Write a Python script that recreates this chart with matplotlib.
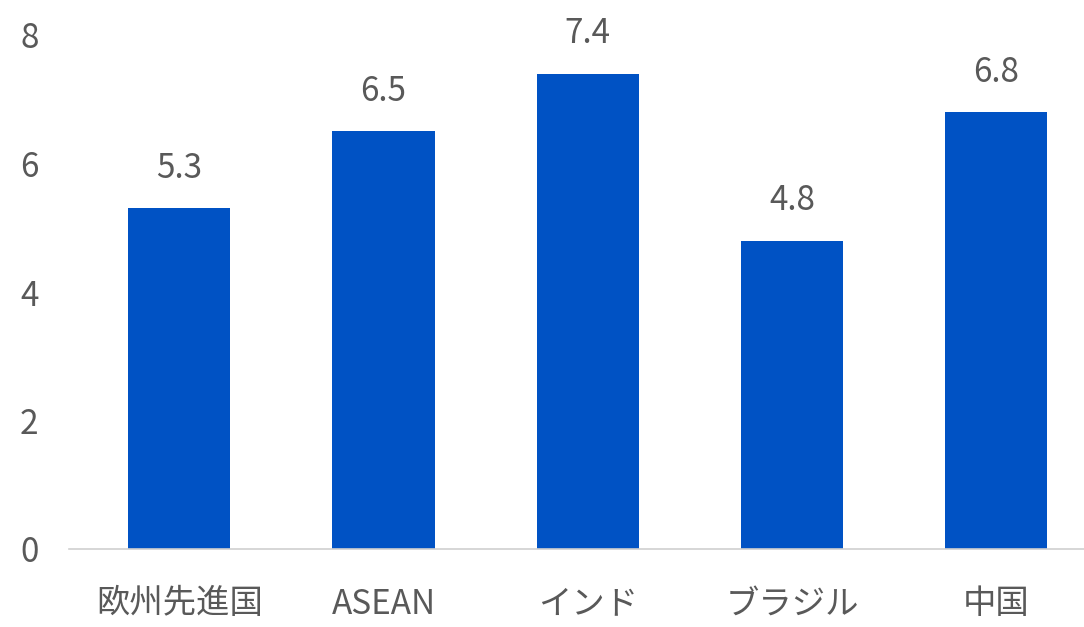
import matplotlib
matplotlib.use("Agg")
import matplotlib.pyplot as plt

categories = ["欧州先進国", "ASEAN", "インド", "ブラジル", "中国"]
values = [5.3, 6.5, 7.4, 4.8, 6.8]
yticks = [0, 2, 4, 6, 8]

plt.rcParams["font.family"] = ["Noto Sans CJK JP", "DejaVu Sans"]

BLUE = "#0052c4"
GRAY = "#595959"

fig = plt.figure(figsize=(10.84, 6.27), dpi=100)
ax = fig.add_axes([69 / 1084, 78 / 627, 1015 / 1084, 514 / 627])

x = list(range(len(categories)))
ax.bar(x, values, width=0.5, color=BLUE, zorder=2)
for xi, v in zip(x, values):
    ax.annotate(f"{v:.1f}", (xi, v), xytext=(0, 16), textcoords="offset points",
                ha="center", va="bottom", fontsize=24, color=GRAY)

ax.set_xlim(-0.54, 4.43)
ax.set_ylim(0, 8)
ax.set_yticks(yticks)
ax.set_yticklabels([str(t) for t in yticks], fontsize=24, color=GRAY)
ax.set_xticks(x)
ax.set_xticklabels(categories, fontsize=24, color=GRAY)
ax.tick_params(axis="both", length=0)
ax.tick_params(axis="y", pad=22)
ax.tick_params(axis="x", pad=27)

for side in ["top", "right", "left"]:
    ax.spines[side].set_visible(False)
ax.spines["bottom"].set_color("#d0d0d0")
ax.spines["bottom"].set_linewidth(1.2)

fig.savefig("out.png", dpi=100)
